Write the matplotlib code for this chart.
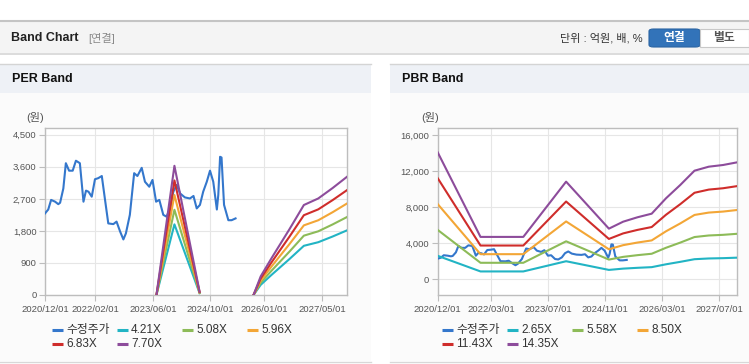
import matplotlib
matplotlib.use("Agg")
import matplotlib.pyplot as plt
import numpy as np
from matplotlib.lines import Line2D
from matplotlib.patches import Rectangle, FancyBboxPatch

plt.rcParams['font.family'] = ['Liberation Sans', 'Noto Sans CJK KR']

W, H = 749, 364

# month index 0 = 2020/12
price_month = [0, 0.9, 1.7, 2.8, 3.7, 4.2, 5.1, 5.8, 6.7, 7.7, 8.6, 9.7, 10.7, 11.4, 12.1, 13.0, 13.9, 14.8, 15.8, 16.7,
               17.6, 19.0, 19.9, 20.9, 21.8, 22.5, 23.6, 24.8, 25.7, 26.9, 27.8, 29.0, 29.9, 30.9, 31.8, 32.9, 33.8, 34.8, 35.7, 36.6,
               37.6, 38.9, 40.3, 41.3, 42.2, 43.1, 44.0, 45.0, 45.9, 46.8, 47.8, 48.2, 48.7, 49.1, 49.8, 51.0, 51.9, 53.0]
price = [2290, 2400, 2670, 2620, 2550, 2590, 2990, 3700, 3490, 3490, 3770, 3700, 2620, 2930, 2900, 2760, 3250, 3280, 3340, 2670,
         2010, 1990, 2060, 1780, 1560, 1730, 2250, 3420, 3340, 3570, 3180, 3040, 3230, 2620, 2670, 2250, 2200, 2430, 2900, 3090,
         2850, 2740, 2710, 2780, 2430, 2530, 2900, 3180, 3490, 3180, 2400, 2810, 3880, 3860, 2530, 2100, 2100, 2150]

nan = np.nan
per_month = [31, 36, 43, 50, 58, 60, 63, 68, 72, 76, 80, 84]
per_labels = ["4.21X", "5.08X", "5.96X", "6.83X", "7.70X"]
per_421 = [0, 1983, 51, nan, 0, 286, 564, 1010, 1381, 1482, 1642, 1815]
per_508 = [0, 2393, 61, nan, 0, 345, 681, 1219, 1666, 1788, 1981, 2189]
per_596 = [0, 2807, 72, nan, 0, 405, 799, 1430, 1955, 2098, 2324, 2569]
per_683 = [0, 3217, 82, nan, 0, 464, 915, 1639, 2240, 2404, 2664, 2944]
per_770 = [0, 3627, 92, nan, 0, 524, 1032, 1848, 2526, 2710, 3003, 3319]

pbr_month = [0, 12, 24, 36, 48, 52, 56, 60, 64, 68, 72, 76, 80, 84]
pbr_labels = ["2.65X", "5.58X", "8.50X", "11.43X", "14.35X"]
pbr_265 = [2605, 869, 869, 2003, 1039, 1182, 1272, 1346, 1662, 1935, 2229, 2311, 2345, 2401]
pbr_558 = [5485, 1830, 1830, 4218, 2187, 2489, 2678, 2835, 3499, 4073, 4693, 4866, 4938, 5055]
pbr_850 = [8356, 2788, 2788, 6426, 3332, 3791, 4080, 4318, 5330, 6205, 7149, 7412, 7523, 7701]
pbr_1143 = [11236, 3749, 3749, 8641, 4481, 5098, 5486, 5806, 7167, 8344, 9613, 9967, 10116, 10356]
pbr_1435 = [14106, 4707, 4707, 10849, 5625, 6400, 6888, 7290, 8997, 10476, 12068, 12513, 12700, 13001]

per_ticks = [0, 14, 30, 46, 61, 77]
per_ticklabels = ["2020/12/01", "2022/02/01", "2023/06/01", "2024/10/01", "2026/01/01", "2027/05/01"]
pbr_ticks = [0, 15, 31, 47, 63, 79]
pbr_ticklabels = ["2020/12/01", "2022/03/01", "2023/07/01", "2024/11/01", "2026/03/01", "2027/07/01"]

price_color = "#3477cc"
band_colors = ["#22b4c4", "#8dbb58", "#f3a636", "#cf2d2b", "#8d4c9b"]


def fx(x):
    return x / W


def fy(y):
    return 1 - y / H


fig = plt.figure(figsize=(W / 100, H / 100), dpi=100)
fig.patch.set_facecolor("white")


def rect(x0, y0, x1, y1, color, z=0):
    fig.add_artist(Rectangle((fx(x0), fy(y1)), fx(x1 - x0), (y1 - y0) / H,
                             transform=fig.transFigure, facecolor=color, edgecolor="none", zorder=z))


def hline(x0, x1, y, color, lw=1.0):
    fig.add_artist(Line2D([fx(x0), fx(x1)], [fy(y), fy(y)], transform=fig.transFigure, color=color, lw=lw))


# top header
hline(0, W, 21, "#c4c4c4", 1.5)
rect(0, 22, W, 53, "#f4f4f4")
hline(0, W, 53.5, "#d6d6d6", 1.2)
fig.text(fx(11), fy(38), "Band Chart", fontsize=9, fontweight="bold", color="#222222", va="center")
fig.text(fx(88), fy(38), "[연결]", fontsize=8, color="#8a8a8a", va="center")
fig.text(fx(643), fy(38), "단위 : 억원, 배, %", fontsize=8, color="#333333", va="center", ha="right")
fig.add_artist(FancyBboxPatch((fx(649), fy(47)), fx(51), 18 / H, boxstyle="round,pad=0,rounding_size=0.006",
                              transform=fig.transFigure, facecolor="#3273b9", edgecolor="#2a64a3", lw=0.8))
fig.add_artist(Rectangle((fx(700), fy(47)), fx(49), 18 / H, transform=fig.transFigure,
                         facecolor="white", edgecolor="#c8c8c8", lw=0.8))
fig.text(fx(674.5), fy(38), "연결", fontsize=8.5, fontweight="bold", color="white", va="center", ha="center")
fig.text(fx(724), fy(38), "별도", fontsize=8.5, fontweight="bold", color="#555555", va="center", ha="center")

# panels
for px0, px1, title in [(0, 371, "PER Band"), (390, 749, "PBR Band")]:
    hline(px0, px1, 63.5, "#d4d4d4", 1.0)
    rect(px0, 64, px1, 93, "#eef1f6")
    rect(px0, 93, px1, 361, "#fbfbfb")
    hline(px0, px1, 361.5, "#d8d8d8", 1.0)
    fig.text(fx(px0 + 12), fy(79), title, fontsize=9, fontweight="bold", color="#111111", va="center")


def make_axes(x0, x1, ylim, yticks, xticks, xticklabels):
    ax = fig.add_axes([fx(x0), fy(295), fx(x1 - x0), (295 - 128.3) / H])
    ax.set_facecolor("white")
    ax.set_xlim(0, 84)
    ax.set_ylim(*ylim)
    ax.set_yticks(yticks)
    ax.set_yticklabels([f"{v:,}" for v in yticks])
    ax.set_xticks(xticks)
    ax.set_xticklabels(xticklabels)
    ax.grid(True, color="#e6e6e6", lw=0.8)
    ax.set_axisbelow(True)
    for s in ax.spines.values():
        s.set_color("#bdbdbd")
        s.set_linewidth(1.0)
    ax.tick_params(axis="both", colors="#bdbdbd", labelcolor="#555555", labelsize=6.8, length=4, width=0.8)
    ax.tick_params(axis="y", pad=2)
    ax.tick_params(axis="x", pad=3)
    return ax


ax1 = make_axes(45, 347, (0, 4680), [0, 900, 1800, 2700, 3600, 4500], per_ticks, per_ticklabels)
ax2 = make_axes(437.7, 737.3, (-1750, 16780), [0, 4000, 8000, 12000, 16000], pbr_ticks, pbr_ticklabels)

fig.text(fx(35), fy(118), "(원)", fontsize=8, color="#555555", ha="center", va="center")
fig.text(fx(430), fy(118), "(원)", fontsize=8, color="#555555", ha="center", va="center")

per_bands = [per_421, per_508, per_596, per_683, per_770]
pbr_bands = [pbr_265, pbr_558, pbr_850, pbr_1143, pbr_1435]

ax1.plot(price_month, price, color=price_color, lw=1.5, zorder=3)
for vals, c in zip(per_bands, band_colors):
    ax1.plot(per_month, vals, color=c, lw=1.5, zorder=3)

ax2.plot(price_month, price, color=price_color, lw=1.5, zorder=3)
for vals, c in zip(pbr_bands, band_colors):
    ax2.plot(pbr_month, vals, color=c, lw=1.5, zorder=3)


def legend(x0, labels):
    names = ["수정주가"] + labels
    colors = [price_color] + band_colors
    for i, (n, c) in enumerate(zip(names, colors)):
        row, col = divmod(i, 4)
        lx = x0 + col * 65
        ly = 330 + row * 14
        fig.add_artist(Line2D([fx(lx), fx(lx + 11)], [fy(ly), fy(ly)], transform=fig.transFigure,
                              color=c, lw=2.2, solid_capstyle="butt"))
        fig.text(fx(lx + 14), fy(ly), n, fontsize=8.5, color="#333333", va="center")


legend(52, per_labels)
legend(442, pbr_labels)

fig.savefig("out.png", dpi=100)
